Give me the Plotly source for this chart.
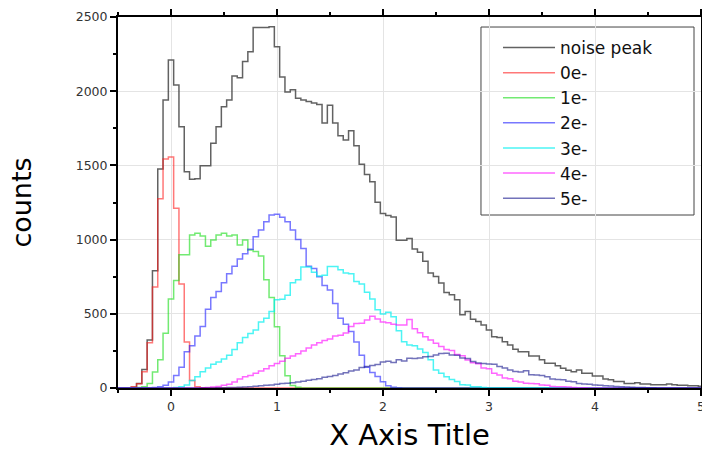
import numpy as np
import plotly.graph_objects as go

# bin centres: -0.5 ... 5.0 step 0.05 (111 bins)
bin_start = -0.5
bin_width = 0.05
n_bins = 111

noise_peak = [
    0, 0, 0, 5, 30, 125, 323, 790, 1475, 1940,
    2210, 2042, 1760, 1457, 1407, 1410, 1497, 1497, 1650, 1760,
    1895, 1940, 2102, 2090, 2200, 2265, 2430, 2430, 2430, 2435,
    2300, 2095, 1995, 2010, 1953, 1940, 1930, 1920, 1910, 1785,
    1905, 1785, 1700, 1672, 1734, 1632, 1507, 1439, 1390, 1252,
    1176, 1162, 1153, 995, 995, 1007, 937, 914, 854, 775,
    752, 707, 644, 628, 595, 493, 516, 464, 448, 425,
    390, 345, 340, 312, 290, 261, 245, 245, 216, 216,
    190, 166, 166, 150, 133, 120, 110, 121, 99, 99,
    81, 81, 61, 55, 43, 43, 31, 31, 36, 27,
    27, 22, 22, 22, 27, 22, 18, 18, 15, 15,
    12,
]

e0 = [
    0, 0, 0, 8, 28, 110, 305, 680, 1275, 1543,
    1556, 1212, 700, 310, 50, 8, 2, 0, 0, 0,
    0, 0, 0, 0, 0, 0, 0, 0, 0, 0,
    0, 0, 0, 0, 0, 0, 0, 0, 0, 0,
    0, 0, 0, 0, 0, 0, 0, 0, 0, 0,
    0, 0, 0, 0, 0, 0, 0, 0, 0, 0,
    0, 0, 0, 0, 0, 0, 0, 0, 0, 0,
    0, 0, 0, 0, 0, 0, 0, 0, 0, 0,
    0, 0, 0, 0, 0, 0, 0, 0, 0, 0,
    0, 0, 0, 0, 0, 0, 0, 0, 0, 0,
    0, 0, 0, 0, 0, 0, 0, 0, 0, 0,
    0,
]

e1 = [
    0, 0, 0, 0, 3, 8, 30, 108, 190, 369,
    600, 724, 898, 898, 1031, 1042, 1024, 955, 997, 1031,
    1042, 1024, 1031, 964, 997, 930, 919, 890, 730, 610,
    413, 217, 82, 17, 5, 0, 0, 0, 0, 0,
    0, 0, 0, 0, 0, 0, 0, 0, 0, 0,
    0, 0, 0, 0, 0, 0, 0, 0, 0, 0,
    0, 0, 0, 0, 0, 0, 0, 0, 0, 0,
    0, 0, 0, 0, 0, 0, 0, 0, 0, 0,
    0, 0, 0, 0, 0, 0, 0, 0, 0, 0,
    0, 0, 0, 0, 0, 0, 0, 0, 0, 0,
    0, 0, 0, 0, 0, 0, 0, 0, 0, 0,
    0,
]

e2 = [
    0, 0, 0, 0, 0, 0, 2, 4, 8, 18,
    40, 85, 140, 245, 285, 350, 415, 530, 610, 650,
    710, 770, 820, 870, 905, 935, 1020, 1065, 1120, 1165,
    1170, 1150, 1120, 1065, 1000, 940, 820, 805, 750, 690,
    660, 570, 470, 430, 380, 310, 220, 140, 105, 78,
    42, 15, 5, 2, 0, 0, 0, 0, 0, 0,
    0, 0, 0, 0, 0, 0, 0, 0, 0, 0,
    0, 0, 0, 0, 0, 0, 0, 0, 0, 0,
    0, 0, 0, 0, 0, 0, 0, 0, 0, 0,
    0, 0, 0, 0, 0, 0, 0, 0, 0, 0,
    0, 0, 0, 0, 0, 0, 0, 0, 0, 0,
    0,
]

e3 = [
    0, 0, 0, 0, 0, 0, 0, 0, 0, 0,
    0, 3, 8, 20, 50, 75, 110, 135, 160, 175,
    195, 220, 260, 305, 340, 368, 390, 445, 470, 516,
    594, 598, 625, 710, 730, 815, 815, 780, 755, 760,
    818, 818, 797, 775, 770, 718, 700, 645, 600, 527,
    498, 510, 480, 385, 312, 290, 285, 262, 240, 190,
    121, 99, 76, 58, 43, 22, 20, 9, 9, 3,
    0, 0, 0, 0, 0, 0, 0, 0, 0, 0,
    0, 0, 0, 0, 0, 0, 0, 0, 0, 0,
    0, 0, 0, 0, 0, 0, 0, 0, 0, 0,
    0, 0, 0, 0, 0, 0, 0, 0, 0, 0,
    0,
]

e4 = [
    0, 0, 0, 0, 0, 0, 0, 0, 0, 0,
    0, 0, 0, 0, 0, 0, 2, 4, 6, 10,
    18, 25, 40, 60, 75, 85, 100, 115, 130, 150,
    165, 180, 200, 215, 230, 250, 270, 290, 305, 320,
    330, 350, 355, 370, 415, 435, 437, 458, 484, 465,
    445, 440, 430, 425, 425, 462, 400, 372, 345, 323,
    301, 279, 260, 252, 225, 218, 189, 170, 163, 135,
    130, 99, 88, 68, 62, 45, 41, 32, 31, 28,
    20, 18, 10, 9, 8, 6, 3, 2, 1, 0,
    0, 0, 0, 0, 0, 0, 0, 0, 0, 0,
    0, 0, 0, 0, 0, 0, 0, 0, 0, 0,
    0,
]

e5 = [
    0, 0, 0, 0, 0, 0, 0, 0, 0, 0,
    0, 0, 0, 0, 0, 0, 0, 0, 0, 1,
    2, 3, 4, 5, 7, 9, 12, 15, 18, 20,
    25, 30, 32, 36, 40, 45, 52, 58, 63, 72,
    78, 85, 95, 103, 115, 122, 138, 145, 152, 158,
    175, 180, 172, 190, 182, 200, 198, 202, 210, 212,
    222, 232, 234, 222, 220, 202, 198, 178, 168, 165,
    162, 160, 145, 135, 122, 112, 108, 117, 90, 88,
    85, 76, 60, 58, 55, 45, 42, 30, 27, 25,
    20, 19, 16, 14, 10, 9, 7, 5, 4, 3,
    2, 1, 0, 0, 0, 0, 0, 0, 0, 0,
    0,
]

series_names = ["noise peak", "0e-", "1e-", "2e-", "3e-", "4e-", "5e-"]
series_values = [noise_peak, e0, e1, e2, e3, e4, e5]
series_colors = [
    "rgba(70,70,70,0.85)",
    "rgba(255,30,30,0.6)",
    "rgba(20,220,20,0.6)",
    "rgba(30,30,255,0.6)",
    "rgba(0,240,240,0.7)",
    "rgba(255,0,255,0.6)",
    "rgba(20,20,140,0.6)",
]

x_tick_vals = [0, 1, 2, 3, 4, 5]
y_tick_vals = [0, 500, 1000, 1500, 2000, 2500]

x = np.round(bin_start + bin_width * np.arange(n_bins), 3)

fig = go.Figure()
for name, vals, col in zip(series_names, series_values, series_colors):
    fig.add_trace(go.Scatter(
        x=x, y=vals, name=name, mode="lines",
        line=dict(color=col, width=1.5, shape="hvh"),
    ))

FONT = "DejaVu Sans, Liberation Sans, Arial, sans-serif"

fig.update_layout(
    width=702, height=452,
    margin=dict(l=118, r=1, t=17, b=64),
    paper_bgcolor="white", plot_bgcolor="white",
    font=dict(family=FONT, color="#222"),
    showlegend=True,
    legend=dict(
        x=0.6518, y=0.9650, xanchor="left", yanchor="top",
        borderwidth=0, bgcolor="rgba(0,0,0,0)",
        font=dict(size=17, color="#111", family=FONT),
        tracegroupgap=0, itemwidth=52,
    ),
    shapes=[dict(
        type="rect", xref="paper", yref="paper",
        x0=0.6226, x1=0.988, y0=0.4663, y1=0.973,
        line=dict(color="#444", width=1), fillcolor="white", layer="below",
    )],
)

axis_common = dict(
    showline=True, linecolor="black", linewidth=2, mirror="ticks",
    ticks="outside", ticklen=6, tickwidth=1.5, tickcolor="black",
    showgrid=True, gridcolor="#e4e4e4", gridwidth=1, zeroline=False,
    tickfont=dict(size=12.5, color="#333", family=FONT),
    automargin=False, ticklabeloverflow="allow",
)

fig.update_xaxes(
    range=[-0.5, 5], tickvals=x_tick_vals, **axis_common,
    minor=dict(ticks="outside", ticklen=3, tickcolor="black", dtick=0.5, tick0=0, showgrid=False),
    title=dict(text="X Axis Title", font=dict(size=29, color="black", family=FONT), standoff=16),
)
fig.update_yaxes(
    range=[0, 2500], tickvals=y_tick_vals, **axis_common,
    minor=dict(ticks="outside", ticklen=3, tickcolor="black", dtick=250, tick0=0, showgrid=False),
    title=dict(text="counts", font=dict(size=27, color="black", family=FONT), standoff=36),
)

fig.write_html("out.html")
